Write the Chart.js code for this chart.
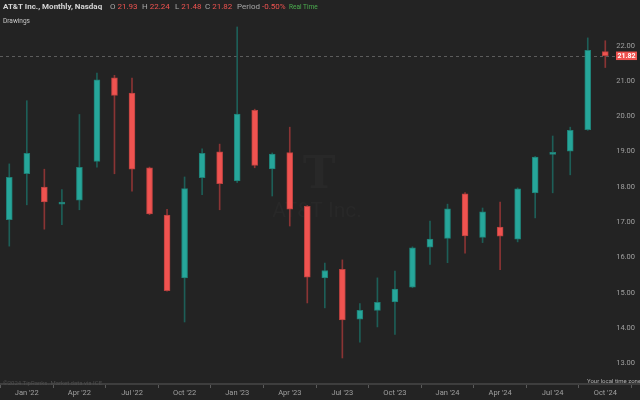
<!DOCTYPE html>
<html>
<head>
<meta charset="utf-8">
<script src="https://cdn.jsdelivr.net/npm/chart.js@4.4.1/dist/chart.umd.min.js"></script>
<style>
  html, body { margin: 0; padding: 0; background: #232323; }
  #wrap { position: relative; width: 640px; height: 400px; font-family: Roboto, "Noto Sans", sans-serif; }
  #c { position: absolute; left: 0; top: 0; }
  .t { position: absolute; white-space: nowrap; line-height: 1; }
  .g { color: #a8a8a8; }
  .r { color: #ef5350; }
</style>
</head>
<body>
<div id="wrap">
  <canvas id="c" width="640" height="400"></canvas>
  <div class="t" style="left:3px;top:3px;font-size:8px;font-weight:bold;color:#d6d6d6">AT&amp;T Inc., Monthly, Nasdaq</div>
  <div class="t" style="left:110px;top:3px;font-size:8px"><span class="g">O</span> <span class="r">21.93</span></div>
  <div class="t" style="left:142px;top:3px;font-size:8px"><span class="g">H</span> <span class="r">22.24</span></div>
  <div class="t" style="left:175px;top:3px;font-size:8px"><span class="g">L</span> <span class="r">21.48</span></div>
  <div class="t" style="left:205px;top:3px;font-size:8px"><span class="g">C</span> <span class="r">21.82</span></div>
  <div class="t" style="left:237px;top:3px;font-size:8px"><span class="g">Period</span> <span class="r">-0.50%</span></div>
  <div class="t" style="left:289px;top:4px;font-size:6.5px;color:#4caf50">Real Time</div>
  <div class="t" style="left:3px;top:18px;font-size:6.5px;color:#c8c8c8">Drawings</div>
  <div class="t" style="left:3px;top:380px;font-size:6px;color:#4e4e4e">©2024 TipRanks. Market data via ICE.</div>
  <div class="t" style="left:587px;top:378px;font-size:6px;color:#b0b0b0">Your local time zone</div>
</div>
<script>
const months = ["Dec '21", "Jan '22", "Feb '22", "Mar '22", "Apr '22", "May '22", "Jun '22", "Jul '22",
  "Aug '22", "Sep '22", "Oct '22", "Nov '22", "Dec '22", "Jan '23", "Feb '23", "Mar '23", "Apr '23",
  "May '23", "Jun '23", "Jul '23", "Aug '23", "Sep '23", "Oct '23", "Nov '23", "Dec '23", "Jan '24",
  "Feb '24", "Mar '24", "Apr '24", "May '24", "Jun '24", "Jul '24", "Aug '24", "Sep '24", "Oct '24"];
const opens  = [17.17, 18.47, 18.09, 17.61, 17.72, 18.82, 21.19, 20.76, 18.64, 17.30, 15.52, 18.36,
  19.09, 18.27, 20.27, 18.61, 19.07, 17.55, 15.52, 15.76, 14.35, 14.60, 14.84, 15.26, 16.39, 16.64,
  17.90, 16.67, 16.96, 16.62, 17.93, 19.02, 19.11, 19.72, 21.93];
const highs  = [18.75, 20.54, 18.60, 18.02, 20.15, 21.32, 21.26, 21.18, 18.66, 17.46, 18.38, 19.18,
  19.31, 22.63, 20.30, 19.06, 19.79, 17.57, 15.94, 16.03, 14.79, 15.52, 15.71, 16.40, 17.13, 17.61,
  17.94, 17.50, 17.67, 18.07, 18.96, 19.54, 19.79, 22.32, 22.24];
const lows   = [16.42, 17.59, 16.90, 17.03, 17.45, 18.66, 18.47, 17.98, 17.31, 15.14, 14.27, 17.88,
  17.45, 18.22, 18.64, 17.84, 16.99, 14.81, 14.67, 13.25, 13.70, 14.13, 13.92, 15.24, 15.90, 15.95,
  16.22, 16.52, 15.75, 16.54, 17.22, 17.93, 18.44, 19.70, 21.48];
const closes = [18.37, 19.05, 17.67, 17.65, 18.65, 21.13, 20.69, 18.60, 17.33, 15.16, 18.05, 19.05,
  18.19, 20.16, 18.71, 19.03, 17.47, 15.54, 15.73, 14.33, 14.60, 14.83, 15.20, 16.37, 16.62, 17.48,
  16.71, 17.39, 16.70, 18.04, 18.94, 19.05, 19.70, 21.97, 21.82];
const priceTicks = [13, 14, 15, 16, 17, 18, 19, 20, 21, 22];
const lastPrice = 21.82;

const up = closes.map((c, i) => c >= opens[i]);

// dashed last-price line + red price tag
const lastLine = {
  id: 'lastLine',
  beforeDatasetsDraw(chart) {
    const ctx = chart.ctx;
    const py = Math.round(chart.scales.y.getPixelForValue(lastPrice)) + 0.5;
    ctx.save();
    ctx.strokeStyle = '#5c5c5c';
    ctx.lineWidth = 1;
    ctx.setLineDash([3, 3]);
    ctx.beginPath();
    ctx.moveTo(0, py);
    ctx.lineTo(615, py);
    ctx.stroke();
    ctx.restore();
  },
  afterDatasetsDraw(chart) {
    const ctx = chart.ctx;
    const py = chart.scales.y.getPixelForValue(lastPrice);
    ctx.save();
    ctx.fillStyle = '#ef5350';
    ctx.fillRect(616, py - 4, 21, 8.5);
    ctx.fillStyle = '#ffffff';
    ctx.font = 'bold 7px Roboto';
    ctx.textAlign = 'center';
    ctx.textBaseline = 'middle';
    ctx.fillText(lastPrice.toFixed(2), 626.5, py + 0.5);
    ctx.restore();
  }
};

// faint logo watermark
const watermark = {
  id: 'watermark',
  beforeDatasetsDraw(chart) {
    const ctx = chart.ctx;
    ctx.save();
    ctx.fillStyle = 'rgba(255,255,255,0.022)';
    ctx.textAlign = 'center';
    ctx.textBaseline = 'middle';
    ctx.font = 'bold 44px "DejaVu Serif"';
    ctx.fillText('T', 319, 177);
    ctx.font = '21px Roboto';
    ctx.fillText('AT&T Inc.', 317, 212);
    ctx.restore();
  }
};

new Chart(document.getElementById('c'), {
  type: 'bar',
  data: {
    datasets: [{
      label: 'body',
      data: months.map((m, i) => ({ x: i, y: [opens[i], closes[i]] })),
      backgroundColor: up.map(u => u ? '#26a69a' : '#ef5350'),
      borderColor: up.map(u => u ? '#1f7f75' : '#b9413f'),
      borderWidth: 1,
      borderSkipped: false,
      barThickness: 6,
      minBarLength: 2,
      grouped: false
    }, {
      label: 'wick',
      data: months.map((m, i) => ({ x: i, y: [lows[i], highs[i]] })),
      backgroundColor: up.map(u => u ? '#1d5e57' : '#8a3434'),
      barThickness: 1,
      grouped: false
    }]
  },
  options: {
    responsive: false,
    animation: false,
    layout: { padding: 0 },
    plugins: { legend: { display: false }, tooltip: { enabled: false } },
    scales: {
      x: {
        type: 'linear',
        offset: false,
        min: -0.53,
        max: 35.98,
        afterBuildTicks: (s) => {
          s.ticks = months.map((m, i) => ({ value: i }))
            .filter(t => /^(Jan|Apr|Jul|Oct)/.test(months[t.value]));
        },
        afterFit: (s) => { s.height = 16; s.paddingLeft = 0; s.paddingRight = 0; },
        ticks: {
          color: '#a0a0a0',
          font: { family: 'Roboto', size: 7.5 },
          padding: 1,
          maxRotation: 0,
          autoSkip: false,
          callback: (v) => months[v]
        },
        grid: { display: true, drawOnChartArea: false, drawTicks: true, tickLength: 4, color: '#5a5a5a' },
        border: { display: true, color: '#3e3e3e', width: 2 }
      },
      y: {
        position: 'right',
        min: 12.513,
        max: 23.394,
        afterBuildTicks: (s) => { s.ticks = priceTicks.map(v => ({ value: v })); },
        afterFit: (s) => { s.width = 0; s.paddingTop = 0; s.paddingBottom = 0; },
        ticks: {
          mirror: true,
          padding: -5,
          labelOffset: -3.5,
          color: '#a0a0a0',
          font: { family: 'Roboto', size: 7.5 },
          callback: (v) => v.toFixed(2)
        },
        grid: { display: false },
        border: { display: false }
      }
    }
  },
  plugins: [watermark, lastLine]
});
</script>
</body>
</html>
